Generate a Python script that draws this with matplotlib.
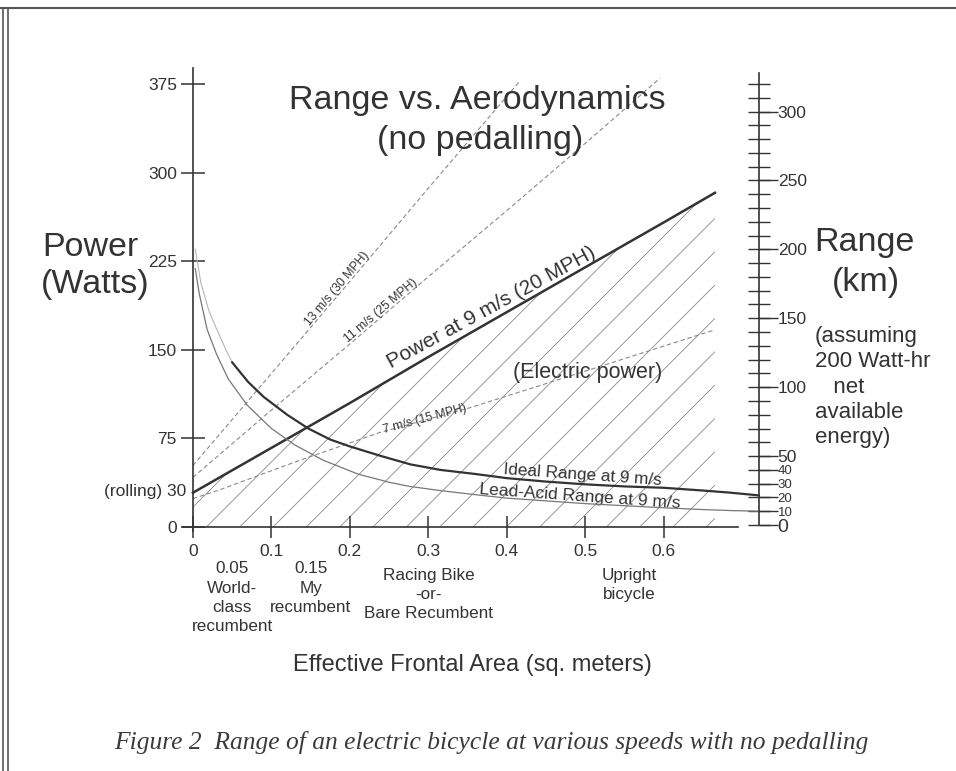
import numpy as np
import matplotlib
matplotlib.use('Agg')
import matplotlib.pyplot as plt
from matplotlib.lines import Line2D

plt.rcParams['font.family'] = ['Liberation Sans', 'DejaVu Sans']
plt.rcParams['hatch.linewidth'] = 0.6

# Power at 9 m/s (20 MPH), watts vs frontal area
area_power = [0, 0.1, 0.2, 0.3, 0.4, 0.5, 0.6, 0.665]
power_9 = [29, 67, 105, 144, 182, 220, 258, 283]

# other speeds (dashed)
area_13 = [0, 0.1, 0.2, 0.3, 0.417]
power_13 = [52, 130, 208, 287, 378]
area_11 = [0, 0.1, 0.2, 0.3, 0.4, 0.5, 0.595]
power_11 = [42, 99, 155, 212, 268, 325, 380]
area_7 = [0, 0.032, 0.13, 0.238, 0.353, 0.5, 0.665]
power_7 = [24, 31, 55, 80, 101, 132, 167]

# range at 9 m/s, km (right axis)
area_ideal = [0.05, 0.07, 0.09, 0.12, 0.147, 0.175, 0.2, 0.24, 0.277, 0.315, 0.36,
              0.4, 0.45, 0.5, 0.55, 0.6, 0.65, 0.684, 0.721]
range_ideal = [118, 104, 93, 80, 70, 62, 57, 50, 44, 40, 37,
               34, 31.5, 29.5, 28, 27, 25, 23.5, 21.5]
area_ideal_ext = [0.003, 0.01, 0.02, 0.028, 0.035, 0.043, 0.05]
range_ideal_ext = [200, 176, 156, 145, 136, 126, 118]
area_lead = [0.003, 0.008, 0.018, 0.03, 0.045, 0.069, 0.1, 0.13, 0.166, 0.21, 0.25,
             0.276, 0.315, 0.36, 0.4, 0.45, 0.5, 0.55, 0.6, 0.65, 0.684, 0.721]
range_lead = [186, 168, 142, 124, 106, 87, 70, 58, 47, 37, 31,
              28, 25, 22, 19.5, 17.5, 15.5, 14, 12.5, 11.2, 10.5, 10]

power_ticks = [0, 75, 150, 225, 300, 375]
area_ticks = [0, 0.1, 0.2, 0.3, 0.4, 0.5, 0.6]
range_major = [0, 10, 20, 30, 40, 50, 100, 150, 200, 250, 300]
range_minor = np.arange(0, 330, 10)

ink = '#333333'
W, H = 956, 771

fig = plt.figure(figsize=(W / 100, H / 100), dpi=100)
ax = fig.add_axes([0.1895, 0.3119, 0.6117, 0.6096])
ax.set_xlim(-0.015, 0.73)
ax.set_ylim(-3, 395)

# hatched electric power region under the 9 m/s line
ax.fill_between(area_power, 0, power_9, facecolor='none', edgecolor='#8a8a8a',
                linewidth=0, hatch='/')

ax.plot(area_13, power_13, '--', color='#8a8a8a', lw=0.8, dashes=(4, 2.5))
ax.plot(area_11, power_11, '--', color='#8a8a8a', lw=0.8, dashes=(4, 2.5))
ax.plot(area_7, power_7, '--', color='#8a8a8a', lw=0.8, dashes=(4, 2.5))
ax.plot(area_power, power_9, '-', color=ink, lw=1.8)

# right axis: range in km
ax2 = ax.twinx()
ax2.set_ylim(-4, 337)
ax2.plot(area_ideal_ext, range_ideal_ext, '-', color='#b5b5b5', lw=0.8)
ax2.plot(area_lead, range_lead, '-', color='#777777', lw=0.9)
ax2.plot(area_ideal, range_ideal, '-', color=ink, lw=1.6)

for s in ['top', 'right']:
    ax.spines[s].set_visible(False)
ax.spines['left'].set_bounds(-3, 389)
ax.spines['bottom'].set_bounds(-0.013, 0.695)
ax.spines['left'].set_position(('data', 0))
ax.spines['bottom'].set_position(('data', 0))
for s in ['left', 'bottom']:
    ax.spines[s].set_color(ink)
    ax.spines[s].set_linewidth(1.2)

ax.set_yticks(power_ticks)
ax.set_xticks(area_ticks)
ax.set_xticklabels(['0', '0.1', '0.2', '0.3', '0.4', '0.5', '0.6'])
ax.tick_params(axis='y', direction='inout', length=17, width=1.1, color=ink,
               labelsize=12.5, labelcolor=ink, pad=3)
ax.tick_params(axis='x', direction='inout', length=16, width=1.1, color=ink,
               labelsize=12.5, labelcolor=ink, pad=4)
ax.text(-0.008, 30, '(rolling) 30', ha='right', va='center', fontsize=12.5, color=ink)

for s in ['top', 'left', 'bottom']:
    ax2.spines[s].set_visible(False)
ax2.spines['right'].set_position(('data', 0.721))
ax2.spines['right'].set_bounds(0, 328)
ax2.spines['right'].set_color(ink)
ax2.spines['right'].set_linewidth(1.2)
ax2.yaxis.remove_overlapping_locs = False
ax2.set_yticks(range_major)
ax2.set_yticks(range_minor, minor=True)
ax2.tick_params(axis='y', which='major', direction='out', length=13.5, width=1,
                color=ink, labelsize=12.5, labelcolor=ink, pad=0)
ax2.tick_params(axis='y', which='minor', direction='inout', length=16.5, width=1,
                color=ink)
for lab, v in zip(ax2.get_yticklabels(), range_major):
    if 0 < v < 50:
        lab.set_fontsize(9.5)
    elif v == 0:
        lab.set_fontsize(14)

# labels along the lines
ax.text(0.38, 186, 'Power at 9 m/s (20 MPH)', rotation=28.6, ha='center', va='center',
        fontsize=15, color=ink, rotation_mode='anchor')
ax.text(0.184, 202, '13 m/s (30 MPH)', rotation=50, ha='center', va='center',
        fontsize=8.8, color=ink, rotation_mode='anchor')
ax.text(0.239, 183, '11 m/s (25 MPH)', rotation=40.5, ha='center', va='center',
        fontsize=8.8, color=ink, rotation_mode='anchor')
ax.text(0.296, 91, '7 m/s (15 MPH)', rotation=15, ha='center', va='center',
        fontsize=8.8, color=ink, rotation_mode='anchor')
ax.text(0.503, 131, '(Electric power)', ha='center', va='center', fontsize=15.5, color=ink)
ax.text(0.497, 44, 'Ideal Range at 9 m/s', rotation=-4, ha='center', va='center',
        fontsize=12.3, color=ink, rotation_mode='anchor')
ax.text(0.493, 26, 'Lead-Acid Range at 9 m/s', rotation=-4, ha='center', va='center',
        fontsize=12.5, color=ink, rotation_mode='anchor')

# descriptions under the area axis
ax.text(0.05, -29, '0.05\nWorld-\nclass\nrecumbent', ha='center', va='top',
        fontsize=12.3, color=ink, linespacing=1.36)
ax.text(0.15, -29, '0.15\nMy\nrecumbent', ha='center', va='top',
        fontsize=12.3, color=ink, linespacing=1.36)
ax.text(0.30, -34.5, 'Racing Bike\n-or-\nBare Recumbent', ha='center', va='top',
        fontsize=12.3, color=ink, linespacing=1.36)
ax.text(0.556, -34.5, 'Upright\nbicycle', ha='center', va='top',
        fontsize=12.3, color=ink, linespacing=1.36)


def px(x, y):
    return x / W, 1 - y / H


fig.text(*px(477, 100), 'Range vs. Aerodynamics', ha='center', va='center',
         fontsize=24.5, color=ink)
fig.text(*px(480, 141), '(no pedalling)', ha='center', va='center',
         fontsize=24.5, color=ink)
fig.text(*px(42, 248), 'Power', ha='left', va='center', fontsize=24.5, color=ink)
fig.text(*px(41, 284), '(Watts)', ha='left', va='center', fontsize=24.5, color=ink)
fig.text(*px(814, 243), 'Range', ha='left', va='center', fontsize=24.5, color=ink)
fig.text(*px(866, 283), '(km)', ha='center', va='center', fontsize=24.5, color=ink)
fig.text(*px(815, 326), '(assuming\n200 Watt-hr\n   net\navailable\nenergy)', ha='left',
         va='top', fontsize=16, color=ink, linespacing=1.27)
fig.text(*px(472, 665), 'Effective Frontal Area (sq. meters)', ha='center', va='center',
         fontsize=17, color=ink)
fig.text(*px(491, 742), 'Figure 2  Range of an electric bicycle at various speeds with no pedalling',
         ha='center', va='center', fontsize=18.4, color='#3a3a3a', style='italic',
         family='Liberation Serif')

# page frame
fig.add_artist(Line2D([0, 1], [1 - 8 / H] * 2, transform=fig.transFigure, color='#555555', lw=1.5))
fig.add_artist(Line2D([3 / W] * 2, [0, 1 - 8 / H], transform=fig.transFigure, color='#555555', lw=1.2))
fig.add_artist(Line2D([8 / W] * 2, [0, 1 - 8 / H], transform=fig.transFigure, color='#555555', lw=1.2))

plt.savefig('out.png', dpi=100)
plt.close()
